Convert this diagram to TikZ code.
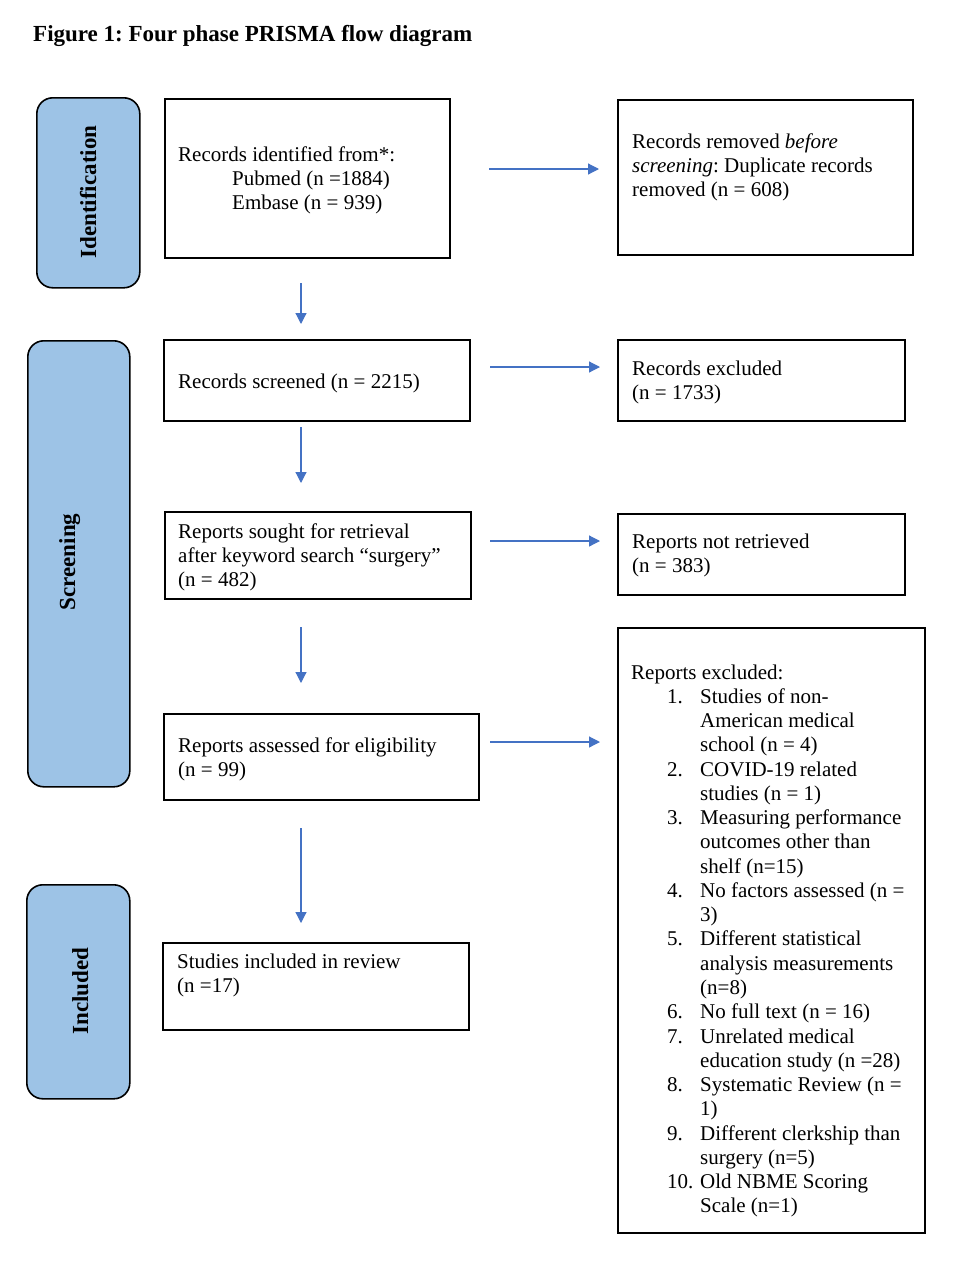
\documentclass[tikz,border=0pt]{standalone}
\usepackage{fontspec}
\setmainfont{Liberation Serif}
\usetikzlibrary{arrows.meta}
\definecolor{phase}{HTML}{9DC3E6}
\definecolor{arrblue}{HTML}{4472C4}
\newcommand{\mylines}[1]{\begin{tabular}[t]{@{}l@{}}#1\end{tabular}}
\newcommand{\itm}[2]{\hspace*{36pt}\makebox[33pt][l]{#1}#2}
\newcommand{\cnt}[1]{\hspace*{69pt}#1}
\frenchspacing
\begin{document}
\frenchspacing
\begin{tikzpicture}[x=1pt,y=-1pt,
  box/.style={draw=black,line width=1.8pt,inner sep=0pt,anchor=north west},
  phasebox/.style={draw=black,line width=1.6pt,fill=phase,rounded corners=16pt,inner sep=0pt,anchor=north west},
  txt/.style={inner sep=0pt,anchor=base west,font=\fontsize{21}{24.27}\selectfont},
  phasetxt/.style={rotate=90,inner sep=0pt,anchor=base,font=\fontsize{23}{27}\selectfont\bfseries},
  arr/.style={draw=arrblue,line width=1.2pt,-{Triangle[length=11pt,width=11pt]}}
]
\useasboundingbox (0,0) rectangle (958,1267);
\fill[white] (0,0) rectangle (958,1267);

\node[inner sep=0pt,anchor=base west,font=\fontsize{23}{27}\selectfont\bfseries] (title) at (33,41) {Figure 1: Four phase PRISMA flow diagram};

% phase boxes
\node[phasebox,minimum width=103pt,minimum height=190pt] (pid) at (36,97) {};
\node[phasetxt] (lid) at (96,192) {Identification};
\node[phasebox,minimum width=102pt,minimum height=446pt] (psc) at (27,340) {};
\node[phasetxt] (lsc) at (75,562) {Screening};
\node[phasebox,minimum width=103pt,minimum height=214pt] (pin) at (26,884) {};
\node[phasetxt] (lin) at (88,991) {Included};

% boxes
\node[box,minimum width=285pt,minimum height=159pt] (b1) at (164,98) {};
\node[box,minimum width=295pt,minimum height=155pt] (r1) at (617,99) {};
\node[box,minimum width=306pt,minimum height=81pt] (b2) at (163,339) {};
\node[box,minimum width=287pt,minimum height=81pt] (r2) at (617,339) {};
\node[box,minimum width=306pt,minimum height=87pt] (b3) at (164,511) {};
\node[box,minimum width=287pt,minimum height=81pt] (r3) at (617,513) {};
\node[box,minimum width=315pt,minimum height=86pt] (b4) at (163,713) {};
\node[box,minimum width=307pt,minimum height=605pt] (r4) at (617,627) {};
\node[box,minimum width=306pt,minimum height=87pt] (b5) at (162,942) {};

% texts
\node[txt] (t1) at (178,161) {\mylines{Records identified from*:\\\hspace*{54pt}Pubmed (n =1884)\\\hspace*{54pt}Embase (n = 939)}};
\node[txt] (tr1) at (632,148) {\mylines{Records removed \textit{before}\\\textit{screening}: Duplicate records\\removed (n = 608)}};
\node[txt] (t2) at (178,388) {Records screened (n = 2215)};
\node[txt] (tr2) at (632,375) {\mylines{Records excluded\\(n = 1733)}};
\node[txt] (t3) at (178,538) {\mylines{Reports sought for retrieval\\after keyword search “surgery”\\(n = 482)}};
\node[txt] (tr3) at (632,548) {\mylines{Reports not retrieved\\(n = 383)}};
\node[txt] (t4) at (178,752) {\mylines{Reports assessed for eligibility\\(n = 99)}};
\node[txt] (t5) at (177,968) {\mylines{Studies included in review\\(n =17)}};
\node[txt] (tr4) at (631,679) {\mylines{Reports excluded:\\
\itm{1.}{Studies of non-}\\
\cnt{American medical}\\
\cnt{school (n = 4)}\\
\itm{2.}{COVID-19 related}\\
\cnt{studies (n = 1)}\\
\itm{3.}{Measuring performance}\\
\cnt{outcomes other than}\\
\cnt{shelf (n=15)}\\
\itm{4.}{No factors assessed (n =}\\
\cnt{3)}\\
\itm{5.}{Different statistical}\\
\cnt{analysis measurements}\\
\cnt{(n=8)}\\
\itm{6.}{No full text (n = 16)}\\
\itm{7.}{Unrelated medical}\\
\cnt{education study (n =28)}\\
\itm{8.}{Systematic Review (n =}\\
\cnt{1)}\\
\itm{9.}{Different clerkship than}\\
\cnt{surgery (n=5)}\\
\itm{10.}{Old NBME Scoring}\\
\cnt{Scale (n=1)}}};

% arrow endpoints
\coordinate (a1s) at (489,169); \coordinate (a1e) at (599,169);
\coordinate (d1s) at (301,283); \coordinate (d1e) at (301,324);
\coordinate (a2s) at (490,367); \coordinate (a2e) at (600,367);
\coordinate (d2s) at (301,427); \coordinate (d2e) at (301,483);
\coordinate (a3s) at (490,541); \coordinate (a3e) at (600,541);
\coordinate (d3s) at (301,627); \coordinate (d3e) at (301,683);
\coordinate (a4s) at (490,742); \coordinate (a4e) at (600,742);
\coordinate (d4s) at (301,828); \coordinate (d4e) at (301,923);

\draw[arr] (a1s) -- (a1e);
\draw[arr] (d1s) -- (d1e);
\draw[arr] (a2s) -- (a2e);
\draw[arr] (d2s) -- (d2e);
\draw[arr] (a3s) -- (a3e);
\draw[arr] (d3s) -- (d3e);
\draw[arr] (a4s) -- (a4e);
\draw[arr] (d4s) -- (d4e);
\end{tikzpicture}
\end{document}
